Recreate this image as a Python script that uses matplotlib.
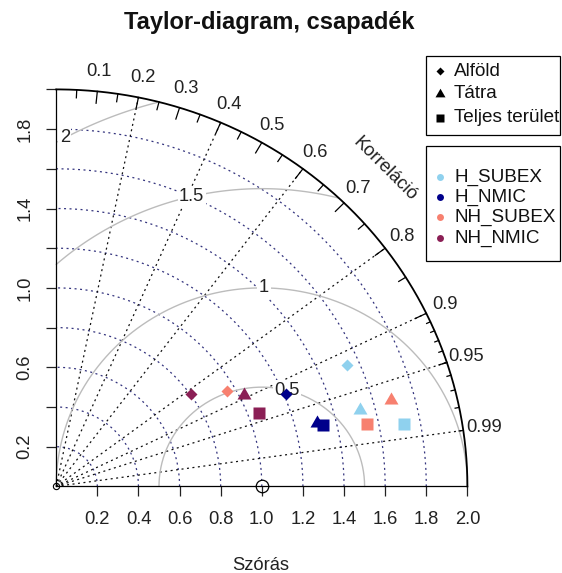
import numpy as np
import matplotlib.pyplot as plt
from matplotlib.lines import Line2D
from matplotlib.patches import Rectangle

plt.rcParams['font.family'] = ['Liberation Sans', 'DejaVu Sans']

W, H = 562, 573

# ---- data: std. dev. and correlation (order: Alföld, Tátra, Teljes terület) ----
regions = ["Alföld", "Tátra", "Teljes terület"]
models = ["H_SUBEX", "H_NMIC", "NH_SUBEX", "NH_NMIC"]
sd_h_subex = [1.540, 1.527, 1.723]
cor_h_subex = [0.918, 0.968, 0.983]
sd_h_nmic = [1.212, 1.306, 1.335]
cor_h_nmic = [0.924, 0.970, 0.973]
sd_nh_subex = [0.959, 1.685, 1.543]
cor_nh_subex = [0.865, 0.966, 0.979]
sd_nh_nmic = [0.803, 1.025, 1.053]
cor_nh_nmic = [0.816, 0.893, 0.937]
ref_sd = 1.0
max_sd = 2.0

sd_ticks = [0.2, 0.4, 0.6, 0.8, 1.0, 1.2, 1.4, 1.6, 1.8, 2.0]
x_ticklabels = ["0.2", "0.4", "0.6", "0.8", "1.0", "1.2", "1.4", "1.6", "1.8", "2.0"]
y_ticklabels = ["0.2", "", "0.6", "", "1.0", "", "1.4", "", "1.8", ""]
corr_labels = [0.1, 0.2, 0.3, 0.4, 0.5, 0.6, 0.7, 0.8, 0.9, 0.95, 0.99]
corr_lines = [0.2, 0.4, 0.6, 0.8, 0.9, 0.95, 0.99]
gamma_levels = [0.5, 1, 1.5, 2]
gamma_labelpos = [45, 53, 61, 70]

sds = [sd_h_subex, sd_h_nmic, sd_nh_subex, sd_nh_nmic]
cors = [cor_h_subex, cor_h_nmic, cor_nh_subex, cor_nh_nmic]
model_colors = ["#8fd1ee", "#00008b", "#f7806f", "#8b1f55"]

# R-like markers: diamond (pch 18), triangle (pch 17), square (pch 15)
tri = [(0, 1.5551), (1.3468, -0.7776), (-1.3468, -0.7776)]
region_markers = ["D", tri, "s"]
region_ms = [6.2, 11.6, 8.6]

fig = plt.figure(figsize=(W / 100, H / 100), dpi=100)
ax = fig.add_axes([0, 0, 1, 1])
x0, sx = 56.2, 205.6
y0, sy = 486.4, 198.5
ax.set_xlim(-x0 / sx, (W - x0) / sx)
ax.set_ylim((y0 - H) / sy, y0 / sy)

for s in ["top", "right"]:
    ax.spines[s].set_visible(False)
for s in ["left", "bottom"]:
    ax.spines[s].set_position(("data", 0))
    ax.spines[s].set_bounds(0, max_sd)
    ax.spines[s].set_linewidth(0.9)
ax.set_xticks(sd_ticks, x_ticklabels)
ax.set_yticks(sd_ticks, y_ticklabels)
ax.tick_params(axis="x", direction="out", length=7.2, width=0.9, pad=10.5, labelsize=13.2, colors="#222222")
ax.tick_params(axis="y", direction="out", length=7.2, width=0.9, pad=9.2, labelsize=13.2, colors="#222222",
               labelrotation=90)
plt.setp(ax.get_yticklabels(), va="center")

th = np.linspace(0, np.pi / 2, 200)
dots = (0, (1.6, 2.8))
# sd arcs (blue dotted)
for s in sd_ticks[:-1]:
    ax.plot(s * np.cos(th), s * np.sin(th), color="#34347e", lw=0.9, ls=dots, zorder=1)
# correlation rays (black dotted)
for c in corr_lines:
    ax.plot([0, max_sd * c], [0, max_sd * np.sqrt(1 - c * c)], color="#111111", lw=0.9, ls=dots, zorder=1)

# centred RMS arcs around the reference point
for g, lp in zip(gamma_levels, gamma_labelpos):
    t = np.arange(0, np.pi, 0.01)
    gx = ref_sd + g * np.cos(t)
    gy = g * np.sin(t)
    keep = (gx >= 0) & (gx ** 2 + gy ** 2 <= max_sd ** 2 + 1e-9)
    ax.plot(gx[keep], gy[keep], color="#bcbcbc", lw=1.0, zorder=2)
    a = (lp - 1) * 0.03
    ax.text(ref_sd + g * np.cos(a), g * np.sin(a), "%g" % g, ha="center", va="center", fontsize=13.2,
            color="#222222", zorder=3,
            bbox=dict(boxstyle="square,pad=0.08", fc="white", ec="none"))

# outer correlation axis with ticks
ax.plot(max_sd * np.cos(th), max_sd * np.sin(th), color="black", lw=1.3, zorder=4)
big = np.arange(1, 10) / 10
med = np.arange(0.05, 1.0, 0.1)
sml = np.arange(91, 100) / 100
for vals, f in [(big, 0.97), (med, 0.98), (sml, 0.99)]:
    for c in vals:
        a = np.arccos(c)
        ax.plot([np.cos(a) * max_sd, np.cos(a) * f * max_sd],
                [np.sin(a) * max_sd, np.sin(a) * f * max_sd], color="black", lw=0.9, zorder=4)
for c in corr_labels:
    a = np.arccos(c)
    ax.text(np.cos(a) * 1.05 * max_sd, np.sin(a) * 1.05 * max_sd, "%g" % c, ha="center", va="center",
            fontsize=13.2, color="#222222")
ax.text(0.8 * max_sd, 0.8 * max_sd, "Korreláció", rotation=-45, ha="center", va="center",
        fontsize=13.2, color="#222222", rotation_mode="anchor")

# reference and origin points
ax.plot([ref_sd], [0], marker="o", ms=9, mfc="none", mec="black", mew=0.9, ls="none", zorder=5,
        clip_on=False)
ax.plot([0], [0], marker="o", ms=4.5, mfc="none", mec="black", mew=0.8, ls="none", zorder=5,
        clip_on=False)

# model points
for sd, cr, col in zip(sds, cors, model_colors):
    sd = np.array(sd)
    cr = np.array(cr)
    for k in range(len(regions)):
        ax.plot(sd[k] * cr[k], sd[k] * np.sqrt(1 - cr[k] ** 2), marker=region_markers[k], ms=region_ms[k],
                color=col, mec="none", ls="none", zorder=6)

# titles
fig.text(269 / W, 1 - 23 / H, "Taylor-diagram, csapadék", ha="center", va="center", fontsize=17,
         fontweight="bold", color="#111111")
fig.text(261 / W, 1 - 565 / H, "Szórás", ha="center", va="center", fontsize=13.2, color="#222222")

# legends
def fx(px):
    return px / W

def fy(py):
    return 1 - py / H

for (top, bot) in [(56, 135), (146, 261)]:
    fig.add_artist(Rectangle((fx(426), fy(bot)), fx(560) - fx(426), fy(top) - fy(bot),
                             transform=fig.transFigure, fc="white", ec="black", lw=0.9))
leg1_y = [71, 94, 118]
leg1_ms = [4.2, 8.3, 5.8]
for name, mk, ms, py in zip(regions, region_markers, leg1_ms, leg1_y):
    fig.add_artist(Line2D([fx(440)], [fy(py)], transform=fig.transFigure, marker=mk, ms=ms,
                          color="black", mec="none", ls="none"))
    fig.text(fx(454), fy(py), name, ha="left", va="center", fontsize=13.6, color="#111111")
leg2_y = [177, 197, 217, 238]
for name, col, py in zip(models, model_colors, leg2_y):
    fig.add_artist(Line2D([fx(440)], [fy(py)], transform=fig.transFigure, marker="o", ms=5,
                          color=col, mec="none", ls="none"))
    fig.text(fx(454), fy(py), name, ha="left", va="center", fontsize=13.6, color="#111111")

fig.savefig("out.png", dpi=100)
